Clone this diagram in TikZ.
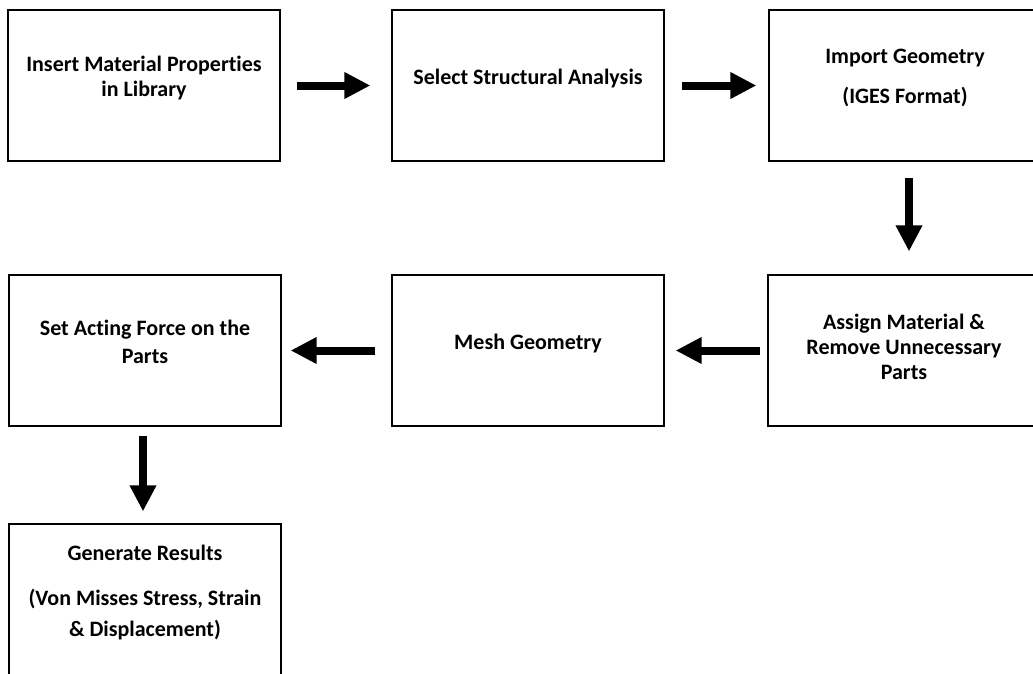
\documentclass[tikz,border=0pt]{standalone}
\usepackage{fontspec}
\setmainfont{Carlito}[Ligatures=CommonOff]
\usetikzlibrary{arrows.meta}

\begin{document}
\begin{tikzpicture}[x=1pt,y=-1pt,
    stage/.style={draw, line width=1.2pt, minimum width=272pt, minimum height=151pt,
        inner sep=0pt, align=center, text depth=18pt,
        font=\fontsize{22}{25}\selectfont\bfseries},
    flow/.style={line width=8pt, -{Triangle[length=26pt,width=25pt]}}]
    \clip (0,0) rectangle (1033,673);
    \useasboundingbox (0,0) rectangle (1033,673);

    \node[stage] (insert) at (144,85.5) {Insert Material Properties\\in Library};
    \node[stage] (select) at (528,85.5) {Select Structural Analysis};
    \node[stage] (import) at (905,85.5) {Import Geometry\\[15pt](IGES Format)};
    \node[stage, text depth=8pt] (assign) at (904,350.5) {Assign Material \&\\Remove Unnecessary\\Parts};
    \node[stage] (mesh) at (528,350.5) {Mesh Geometry};
    \node[stage] (force) at (145,350.5) {Set Acting Force on the\\[3pt]Parts};
    \node[stage] (results) at (145,599.5) {Generate Results\\[20pt](Von Misses Stress, Strain\\[6pt]\& Displacement)};

    \draw[flow, shorten <=16pt, shorten >=21pt] (insert.east) -- (select.west);
    \draw[flow, shorten <=17pt, shorten >=12pt] (select.east) -- (import.west);
    \draw[flow, shorten <=16pt, shorten >=23pt] ([xshift=4pt]import.south) -- ([xshift=5pt]assign.north);
    \draw[flow, shorten <=7pt, shorten >=11pt] (assign.west) -- (mesh.east);
    \draw[flow, shorten <=16pt, shorten >=9pt] (mesh.west) -- (force.east);
    \draw[flow, shorten <=9pt, shorten >=12pt] ([xshift=-2pt]force.south) -- ([xshift=-2pt]results.north);
\end{tikzpicture}
\end{document}
